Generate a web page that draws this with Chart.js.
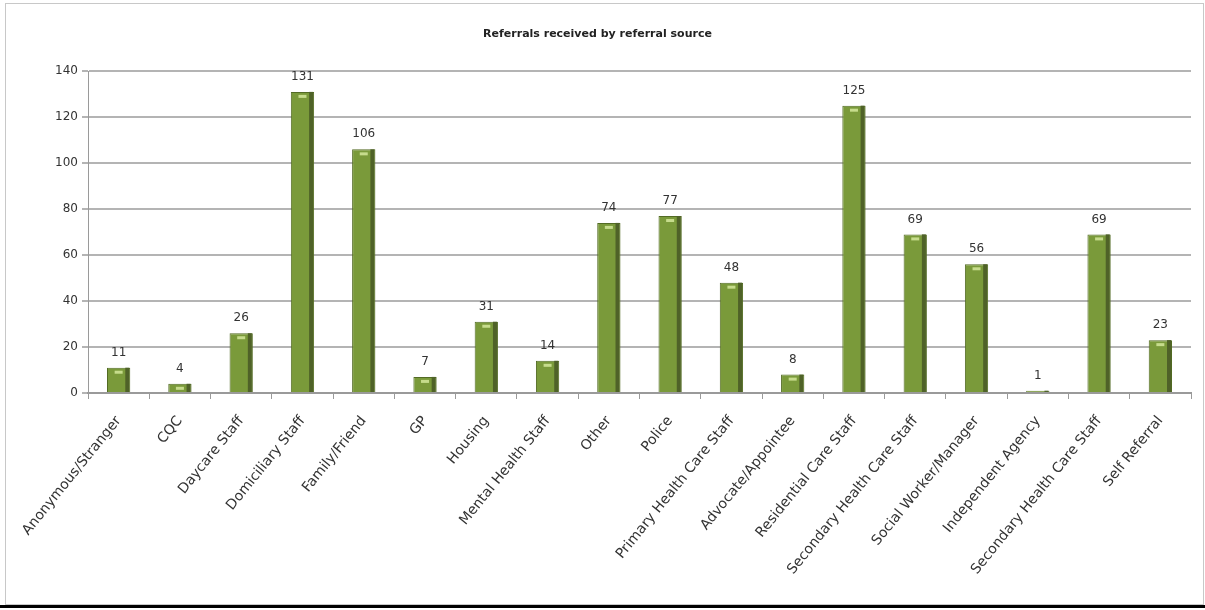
<!DOCTYPE html>
<html>
<head>
<meta charset="utf-8">
<script src="https://cdn.jsdelivr.net/npm/chart.js@4/dist/chart.umd.min.js"></script>
<style>
  html, body { margin: 0; padding: 0; background: #fff; }
  #frame { position: absolute; left: 5px; top: 3px; width: 1197px; height: 600px; border: 1px solid #c8c8c8; }
  #baseline { position: absolute; left: 0; top: 605px; width: 1205px; height: 3px; background: #000; }
  #wrap { position: absolute; left: 0; top: 0; width: 1205px; height: 610px; }
</style>
</head>
<body>
<div id="frame"></div>
<div id="baseline"></div>
<div id="wrap"><canvas id="chart" width="1205" height="604"></canvas></div>
<script>
const categories = [
  'Anonymous/Stranger', 'CQC', 'Daycare Staff', 'Domiciliary Staff', 'Family/Friend', 'GP',
  'Housing', 'Mental Health Staff', 'Other', 'Police', 'Primary Health Care Staff',
  'Advocate/Appointee', 'Residential Care Staff', 'Secondary Health Care Staff',
  'Social Worker/Manager', 'Independent Agency', 'Secondary Health Care Staff', 'Self Referral'
];
const referrals = [11, 4, 26, 131, 106, 7, 31, 14, 74, 77, 48, 8, 125, 69, 56, 1, 69, 23];
const yTicks = [0, 20, 40, 60, 80, 100, 120, 140];

// values written above each bar
const valueLabels = {
  id: 'valueLabels',
  afterDatasetsDraw(chart) {
    const ctx = chart.ctx;
    const meta = chart.getDatasetMeta(0);
    ctx.save();
    ctx.font = '12px "DejaVu Sans", sans-serif';
    ctx.fillStyle = '#333';
    ctx.textAlign = 'center';
    ctx.textBaseline = 'bottom';
    meta.data.forEach((bar, i) => {
      ctx.fillText(String(referrals[i]), bar.x, bar.y - 9);
    });
    ctx.restore();
  }
};

// darker right side + light cap, like the office-style bars
const barShade = {
  id: 'barShade',
  afterDatasetsDraw(chart) {
    const ctx = chart.ctx;
    const meta = chart.getDatasetMeta(0);
    ctx.save();
    meta.data.forEach(bar => {
      const w = bar.width, left = bar.x - w / 2, h = bar.base - bar.y;
      ctx.fillStyle = '#4f6228';
      ctx.fillRect(left + w - 5, bar.y, 4, h);
      if (h > 6) {
        ctx.fillStyle = '#c6dc8c';
        ctx.fillRect(bar.x - 4, bar.y + 3, 8, 3);
      }
    });
    ctx.restore();
  }
};

new Chart(document.getElementById('chart'), {
  type: 'bar',
  data: {
    labels: categories,
    datasets: [{
      data: referrals,
      backgroundColor: '#7a9a3a',
      borderColor: '#536b25',
      borderWidth: 1,
      barPercentage: 0.38,
      categoryPercentage: 1
    }]
  },
  options: {
    responsive: false,
    animation: false,
    devicePixelRatio: 1,
    layout: { padding: { top: 18, right: 14, left: 4, bottom: 0 } },
    plugins: {
      legend: { display: false },
      tooltip: { enabled: false },
      title: {
        display: true,
        text: 'Referrals received by referral source',
        color: '#222',
        font: { family: 'DejaVu Sans', size: 11, weight: 'bold' },
        padding: { top: 10, bottom: 30 }
      }
    },
    scales: {
      x: {
        grid: { display: true, drawOnChartArea: false, offset: true, tickLength: 6, color: '#9a9a9a' },
        border: { color: '#9a9a9a', width: 2 },
        ticks: {
          minRotation: 51, maxRotation: 51, autoSkip: false,
          color: '#333', padding: 14,
          font: { family: 'DejaVu Sans', size: 14 }
        },
        afterFit(scale) { scale.height = 211; }
      },
      y: {
        min: 0, max: 140,
        afterBuildTicks(scale) { scale.ticks = yTicks.map(v => ({ value: v })); },
        grid: { color: '#b4b4b4', lineWidth: 2, tickLength: 6 },
        border: { color: '#9a9a9a', width: 1 },
        ticks: {
          color: '#333', padding: 4,
          font: { family: 'DejaVu Sans', size: 12 }
        },
        afterFit(scale) { scale.width = 84; }
      }
    }
  },
  plugins: [valueLabels, barShade]
});
</script>
</body>
</html>
